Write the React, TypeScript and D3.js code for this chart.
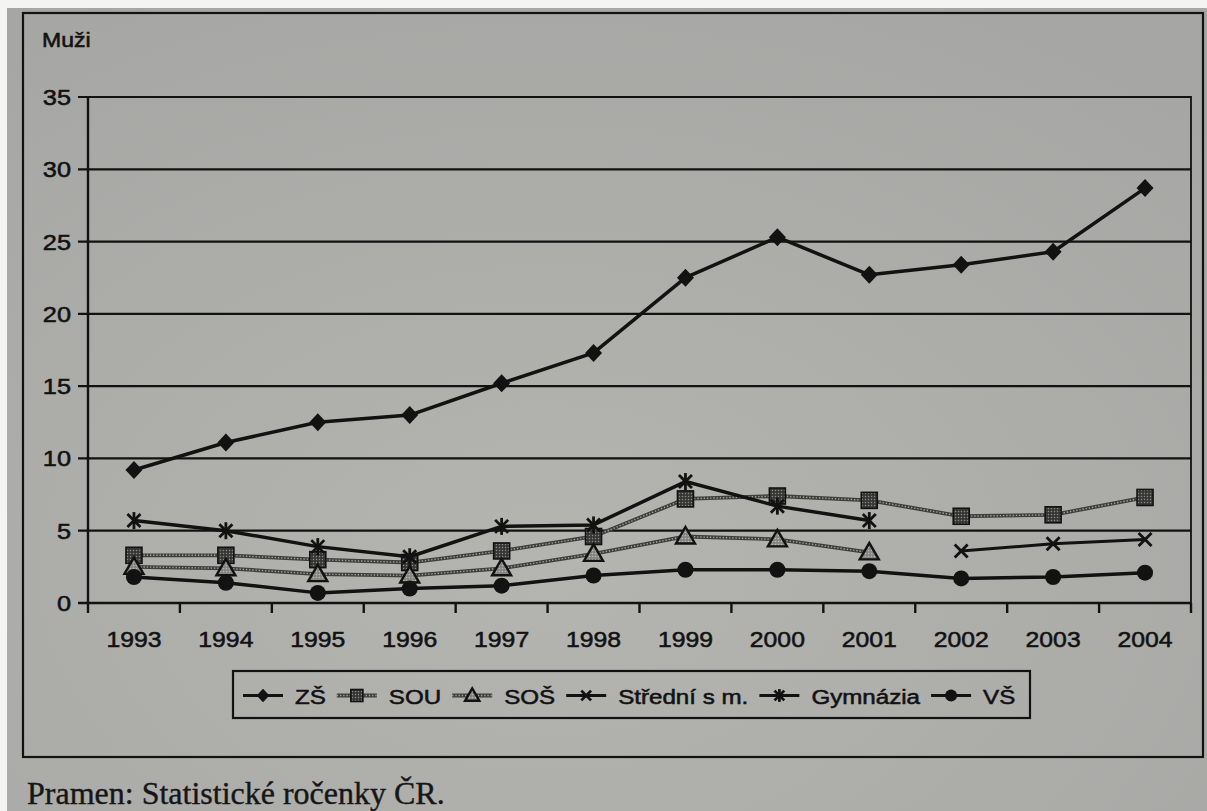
import React, { useEffect, useMemo } from 'react';
import * as d3 from 'd3';

// Unemployment rate of men by education level, 1993–2004
const years = ['1993', '1994', '1995', '1996', '1997', '1998', '1999', '2000', '2001', '2002', '2003', '2004'];
const zsValues = [9.2, 11.1, 12.5, 13.0, 15.2, 17.3, 22.5, 25.3, 22.7, 23.4, 24.3, 28.7];
const souValues = [3.3, 3.3, 3.0, 2.8, 3.6, 4.6, 7.2, 7.4, 7.1, 6.0, 6.1, 7.3];
const sosValues = [2.5, 2.4, 2.0, 1.9, 2.4, 3.4, 4.6, 4.4, 3.5, null, null, null];
const stredniValues = [null, null, null, null, null, null, null, null, null, 3.6, 4.1, 4.4];
const gymValues = [5.7, 5.0, 3.9, 3.2, 5.3, 5.4, 8.4, 6.7, 5.7, null, null, null];
const vsValues = [1.8, 1.4, 0.7, 1.0, 1.2, 1.9, 2.3, 2.3, 2.2, 1.7, 1.8, 2.1];
const seriesNames = ['ZŠ', 'SOU', 'SOŠ', 'Střední s m.', 'Gymnázia', 'VŠ'];
const yTicks = [0, 5, 10, 15, 20, 25, 30, 35];

type MarkerKind = 'diamond' | 'square' | 'triangle' | 'cross' | 'star' | 'circle';
type Series = { name: string; values: (number | null)[]; marker: MarkerKind; hatched: boolean };

const series: Series[] = [
  { name: seriesNames[0], values: zsValues, marker: 'diamond', hatched: false },
  { name: seriesNames[1], values: souValues, marker: 'square', hatched: true },
  { name: seriesNames[2], values: sosValues, marker: 'triangle', hatched: true },
  { name: seriesNames[3], values: stredniValues, marker: 'cross', hatched: false },
  { name: seriesNames[4], values: gymValues, marker: 'star', hatched: false },
  { name: seriesNames[5], values: vsValues, marker: 'circle', hatched: false },
];

const W = 1207;
const H = 811;
const INK = '#121212';
const SANS = "'Liberation Sans', Arial, sans-serif";
const SERIF = "'Liberation Serif', 'Times New Roman', serif";
const SX = 1.15; // printed sans type runs a little wide

const plot = { left: 88, right: 1191, top: 97, bottom: 603 };

function Marker({ kind, x, y, s = 1 }: { kind: MarkerKind; x: number; y: number; s?: number }) {
  switch (kind) {
    case 'diamond':
      return (
        <path
          d={`M${x},${y - 9 * s}L${x + 8.5 * s},${y}L${x},${y + 9 * s}L${x - 8.5 * s},${y}Z`}
          fill={INK}
        />
      );
    case 'square':
      return (
        <rect
          x={x - 8 * s}
          y={y - 8 * s}
          width={16 * s}
          height={16 * s}
          fill="url(#darkDots)"
          stroke={INK}
          strokeWidth={1.6}
        />
      );
    case 'triangle':
      return (
        <path
          d={`M${x},${y - 9.5 * s}L${x + 9.5 * s},${y + 7 * s}L${x - 9.5 * s},${y + 7 * s}Z`}
          fill="url(#lightDots)"
          stroke={INK}
          strokeWidth={2.4}
          strokeLinejoin="miter"
        />
      );
    case 'cross':
      return (
        <g stroke={INK} strokeWidth={2.8} strokeLinecap="butt">
          <line x1={x - 6.5 * s} y1={y - 6.5 * s} x2={x + 6.5 * s} y2={y + 6.5 * s} />
          <line x1={x - 6.5 * s} y1={y + 6.5 * s} x2={x + 6.5 * s} y2={y - 6.5 * s} />
        </g>
      );
    case 'star':
      return (
        <g stroke={INK} strokeWidth={2.8} strokeLinecap="butt">
          <line x1={x - 6.5 * s} y1={y - 6.5 * s} x2={x + 6.5 * s} y2={y + 6.5 * s} />
          <line x1={x - 6.5 * s} y1={y + 6.5 * s} x2={x + 6.5 * s} y2={y - 6.5 * s} />
          <line x1={x} y1={y - 8.5 * s} x2={x} y2={y + 8.5 * s} />
        </g>
      );
    case 'circle':
    default:
      return <circle cx={x} cy={y} r={8 * s} fill={INK} />;
  }
}

function SeriesLine({ d, hatched, width }: { d: string; hatched: boolean; width: number }) {
  if (hatched) {
    return (
      <g fill="none">
        <path d={d} stroke="#3e3e3c" strokeWidth={3.8} />
        <path d={d} stroke="#a5a5a2" strokeWidth={1.4} strokeDasharray="1.3 1.9" />
      </g>
    );
  }
  return <path d={d} fill="none" stroke={INK} strokeWidth={width} strokeLinejoin="round" />;
}

function SText({
  x,
  y,
  size,
  anchor = 'start',
  stretch = SX,
  weight = 0.55,
  children,
}: {
  x: number;
  y: number;
  size: number;
  anchor?: 'start' | 'middle' | 'end';
  stretch?: number;
  weight?: number;
  children: React.ReactNode;
}) {
  return (
    <text
      transform={`translate(${x},${y}) scale(${stretch},1)`}
      fontFamily={SANS}
      fontSize={size}
      fill={INK}
      stroke={INK}
      strokeWidth={weight}
      textAnchor={anchor}
    >
      {children}
    </text>
  );
}

export default function App() {
  useEffect(() => {
    document.body.style.margin = '0';
    document.body.style.overflow = 'hidden';
  }, []);

  const x = useMemo(
    () => d3.scaleBand<string>().domain(years).range([plot.left, plot.right]).paddingInner(0).paddingOuter(0),
    []
  );
  const y = useMemo(() => d3.scaleLinear().domain([0, 35]).range([plot.bottom, plot.top]), []);
  const cx = (yr: string) => (x(yr) as number) + x.bandwidth() / 2;

  const line = d3
    .line<number | null>()
    .defined((v) => v !== null)
    .x((_, i) => cx(years[i]))
    .y((v) => y(v as number));

  // legend layout from measured label widths
  const legendFont = 21;
  const measure = (t: string) => {
    const c = document.createElement('canvas').getContext('2d');
    if (!c) return t.length * legendFont * 0.55 * SX;
    c.font = `${legendFont}px 'Liberation Sans', Arial, sans-serif`;
    return c.measureText(t).width * SX;
  };
  const legendItems: { s: Series; lx: number; tx: number }[] = [];
  let cursor = 243;
  series.forEach((s) => {
    const lx = cursor;
    const tx = lx + 40 + 12;
    legendItems.push({ s, lx, tx });
    cursor = tx + measure(s.name) + 11;
  });
  const legendTop = 671;
  const legendBottom = 718;
  const legendMid = (legendTop + legendBottom) / 2 + 1;

  const tickXs = years.map((yr) => x(yr) as number).concat([plot.right]);

  return (
    <svg
      width={W}
      height={H}
      style={{ position: 'absolute', left: 0, top: 0, display: 'block' }}
      xmlns="http://www.w3.org/2000/svg"
    >
      <defs>
        <pattern id="darkDots" width="3" height="3" patternUnits="userSpaceOnUse">
          <rect width="3" height="3" fill="#363635" />
          <circle cx="1.5" cy="1.5" r="0.75" fill="#8a8a87" />
        </pattern>
        <pattern id="lightDots" width="3" height="3" patternUnits="userSpaceOnUse">
          <rect width="3" height="3" fill="#858582" />
          <circle cx="1.5" cy="1.5" r="0.8" fill="#b8b8b5" />
        </pattern>
        <radialGradient id="paper" cx="0.45" cy="0.7" r="0.8">
          <stop offset="0" stopColor="#b4b4b1" />
          <stop offset="1" stopColor="#a6a6a4" />
        </radialGradient>
      </defs>

      {/* page */}
      <rect width={W} height={H} fill="#f4f4f2" />
      <rect x={7} y={8} width={W - 7} height={H - 8} fill="url(#paper)" />

      {/* outer chart frame */}
      <rect x={23} y={13} width={1180} height={744} fill="none" stroke={INK} strokeWidth={2.2} />

      {/* axis title */}
      <SText x={42} y={47} size={20}>
        Muži
      </SText>

      {/* horizontal grid + y ticks */}
      {yTicks.map((t) => (
        <g key={t}>
          <line x1={plot.left - 10} x2={plot.right} y1={y(t)} y2={y(t)} stroke={INK} strokeWidth={t === 0 ? 2.5 : 2.2} />
          <SText x={71} y={y(t) + 8} size={22} anchor="end">
            {t}
          </SText>
        </g>
      ))}

      {/* plot borders */}
      <line x1={plot.left} x2={plot.left} y1={plot.top - 1} y2={plot.bottom + 1} stroke={INK} strokeWidth={2.4} />
      <line x1={plot.right} x2={plot.right} y1={plot.top - 1} y2={plot.bottom + 1} stroke={INK} strokeWidth={1.8} />

      {/* x ticks and year labels */}
      {tickXs.map((tx, i) => (
        <line key={i} x1={tx} x2={tx} y1={plot.bottom} y2={plot.bottom + 10} stroke={INK} strokeWidth={2.4} />
      ))}
      {years.map((yr) => (
        <SText key={yr} x={cx(yr)} y={647} size={22.5} anchor="middle" stretch={1.1}>
          {yr}
        </SText>
      ))}

      {/* series */}
      {series.map((s) => (
        <g key={s.name}>
          <SeriesLine d={line(s.values) || ''} hatched={s.hatched} width={s.marker === 'cross' ? 3 : 3.5} />
          {s.values.map((v, i) =>
            v === null ? null : <Marker key={i} kind={s.marker} x={cx(years[i])} y={y(v)} />
          )}
        </g>
      ))}

      {/* legend */}
      <rect
        x={233}
        y={legendTop}
        width={797}
        height={legendBottom - legendTop}
        fill="none"
        stroke={INK}
        strokeWidth={2.2}
      />
      {legendItems.map(({ s, lx, tx }) => (
        <g key={s.name}>
          <SeriesLine d={`M${lx},${legendMid}L${lx + 40},${legendMid}`} hatched={s.hatched} width={2.8} />
          <Marker kind={s.marker} x={lx + 20} y={legendMid} s={0.75} />
          <SText x={tx} y={legendMid + 8} size={legendFont}>
            {s.name}
          </SText>
        </g>
      ))}

      {/* source note */}
      <text x={27} y={804} fontFamily={SERIF} fontSize={32} fill="#161616" stroke="#161616" strokeWidth={0.4}>
        Pramen: Statistické ročenky ČR.
      </text>
    </svg>
  );
}
